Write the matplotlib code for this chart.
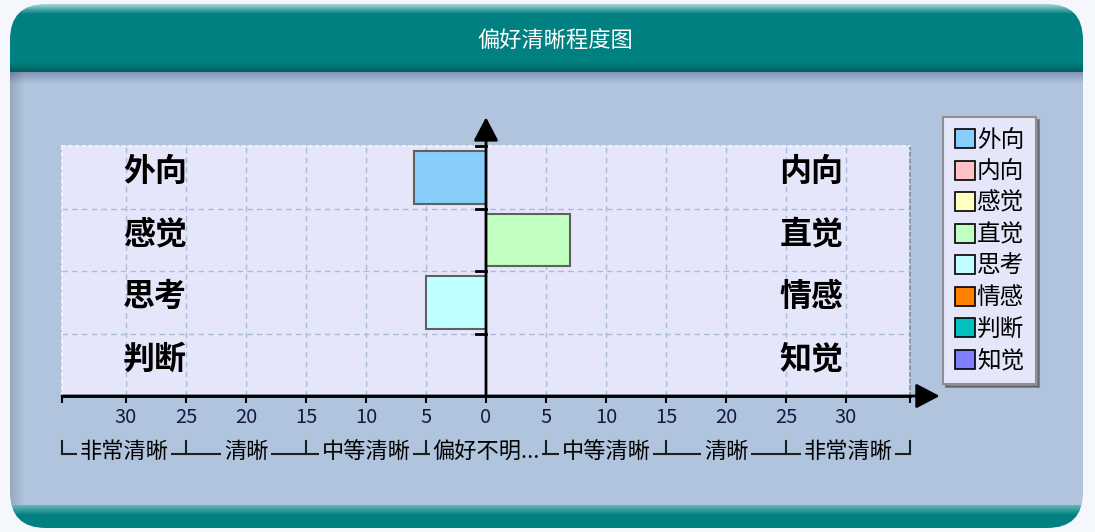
import numpy as np
import matplotlib.pyplot as plt
from matplotlib.patches import FancyBboxPatch, Patch

plt.rcParams['font.family'] = ['Noto Sans CJK SC', 'DejaVu Sans']

## Data
title = '偏好清晰程度图'
left_names = ['外向', '感觉', '思考', '判断']
right_names = ['内向', '直觉', '情感', '知觉']
row_scores = [-6, 7, -5, 0]   # negative -> left pole, positive -> right pole

legend_names = ['外向', '内向', '感觉', '直觉', '思考', '情感', '判断', '知觉']
legend_colors = ['#87CEFA', '#FFC0C8', '#FFFFC0', '#C0FFC0',
                 '#C0FFFF', '#FF8000', '#00C0C0', '#8080FF']

tick_values = list(range(-30, 31, 5))
band_edges = [-25, -15, -5, 5, 15, 25]
band_labels = ['非常清晰', '清晰', '中等清晰', '偏好不明...', '中等清晰', '清晰', '非常清晰']

W, H = 1095, 532
fig = plt.figure(figsize=(W / 100, H / 100), dpi=100)
fig.patch.set_facecolor('#F4F8FC')

## Background panel (pixel coords)
bg = fig.add_axes([0, 0, 1, 1], zorder=-5)
bg.set_xlim(0, W)
bg.set_ylim(H, 0)
bg.axis('off')

def hx(c):
    return np.array([int(c[i:i + 2], 16) for i in (1, 3, 5)]) / 255.0

teal = hx('#008080')
body = hx('#B0C4DE')
ys = np.arange(H) + 0.5
rows = np.tile(teal, (H, 1))
for i, y in enumerate(ys):
    if y < 14:
        t = max(0, (y - 4) / 10)
        rows[i] = hx('#A8D8D8') * (1 - t) + teal * t
    elif 62 <= y < 72:
        t = (y - 62) / 10
        rows[i] = teal * (1 - t) + hx('#005E5E') * t
    elif 72 <= y < 505:
        t = min(1, (y - 72) / 12)
        rows[i] = hx('#8494B4') * (1 - t) + body * t
    elif y >= 505:
        t = min(1, (y - 505) / 10)
        rows[i] = hx('#68B8B8') * (1 - t) + teal * t
img = np.repeat(rows[:, None, :], W, axis=1)
# left edge shade on body
xs = np.arange(W) + 0.5
shade = np.clip((xs - 10) / 14, 0, 1)
for i, y in enumerate(ys):
    if 72 <= y < 505:
        img[i] = img[i] * (0.85 + 0.15 * shade[:, None])

panel = FancyBboxPatch((10, 4), 1073, 524, boxstyle='round,pad=0,rounding_size=36',
                       facecolor='none', edgecolor='none', transform=bg.transData)
bg.add_patch(panel)
im = bg.imshow(img, extent=[0, W, H, 0], aspect='auto', interpolation='nearest')
im.set_clip_path(panel)

fig.text(555 / W, 1 - 40 / H, title, color='white', fontsize=16,
         ha='center', va='center')

## Main plot area
x0, x1, y0, y1 = 62, 910, 146, 396
ax = fig.add_axes([x0 / W, 1 - y1 / H, (x1 - x0) / W, (y1 - y0) / H])
ax.set_facecolor('#E6E6FA')
xlim = (-35.33, 35.33)
ax.set_xlim(*xlim)
ax.set_ylim(0, 4)

grid_kw = dict(color='#A8BCD8', lw=1, ls=(0, (4, 3)), zorder=1)
for v in tick_values:
    if v != 0:
        ax.axvline(v, **grid_kw)
for r in (1, 2, 3):
    ax.axhline(r, **grid_kw)

for s in ('top', 'left', 'right'):
    ax.spines[s].set_color('#F4F4FF')
    ax.spines[s].set_linestyle((0, (2, 2)))
    ax.spines[s].set_linewidth(1.2)
ax.spines['right'].set_color('#8090A8')
ax.spines['bottom'].set_color('black')
ax.spines['bottom'].set_linewidth(2)

# bars
centers = [3.5 - i for i in range(len(left_names))]
for i, sc in enumerate(row_scores):
    if sc == 0:
        continue
    name = left_names[i] if sc < 0 else right_names[i]
    col = legend_colors[legend_names.index(name)]
    ax.barh(centers[i], sc, height=0.84, color=col, edgecolor='#606060',
            linewidth=1.5, zorder=3)

# pole labels
for i in range(len(left_names)):
    ax.text(-27.6, centers[i] + 0.08, left_names[i], fontsize=23, fontweight='bold',
            ha='center', va='center', zorder=4)
    ax.text(27.1, centers[i] + 0.08, right_names[i], fontsize=23, fontweight='bold',
            ha='center', va='center', zorder=4)

# axes arrows
arrow = dict(arrowstyle='-|>,head_length=0.8,head_width=0.42', color='black',
             lw=2, mutation_scale=18, shrinkA=0, shrinkB=0)
ax.annotate('', xy=(0, 4.46), xytext=(0, 0), arrowprops=arrow,
            annotation_clip=False, zorder=5)
ax.annotate('', xy=(37.8, 0), xytext=(xlim[0], 0), arrowprops=arrow,
            annotation_clip=False, zorder=5)
for r in (1, 2, 3, 4):
    ax.plot([-0.85, 0], [r, r], color='black', lw=2, clip_on=False, zorder=5)

ax.set_yticks([])
ax.set_xticks(tick_values)
ax.set_xticklabels([str(abs(v)) for v in tick_values])
ax.set_xticks(list(xlim), minor=True)
ax.tick_params(axis='x', which='both', direction='out', length=5, width=1.5,
               pad=3, labelsize=14.5, labelcolor='#1A1A40', color='black')

# clarity bands below the axis
edges = [xlim[0]] + band_edges + [xlim[1]]
yb = -0.93
ax.plot([edges[0], edges[-1]], [yb, yb], color='#202020', lw=1.5,
        clip_on=False, zorder=2)
for e in edges:
    ax.plot([e, e], [yb, -0.72], color='#202020', lw=1.5, clip_on=False, zorder=2)
for lab, a, b in zip(band_labels, edges[:-1], edges[1:]):
    ax.text((a + b) / 2, yb + 0.04, lab, fontsize=16, ha='center', va='center',
            clip_on=False, zorder=3,
            bbox=dict(facecolor='#B0C4DE', edgecolor='none', pad=2))

## Legend
handles = [Patch(facecolor=c, edgecolor='black', lw=1.2, label=n)
           for n, c in zip(legend_names, legend_colors)]
leg = fig.legend(handles=handles, loc='upper left',
                 bbox_to_anchor=(943 / W, 1 - 117 / H), fontsize=17,
                 frameon=True, fancybox=False, shadow=True, framealpha=1,
                 facecolor='#E6E6FA', edgecolor='#909090',
                 handlelength=0.85, handleheight=0.85, handletextpad=0.08,
                 labelspacing=0.36, borderpad=0.5, borderaxespad=0)
leg.get_frame().set_linewidth(1.5)

fig.savefig('out.png', dpi=100, facecolor=fig.get_facecolor())
